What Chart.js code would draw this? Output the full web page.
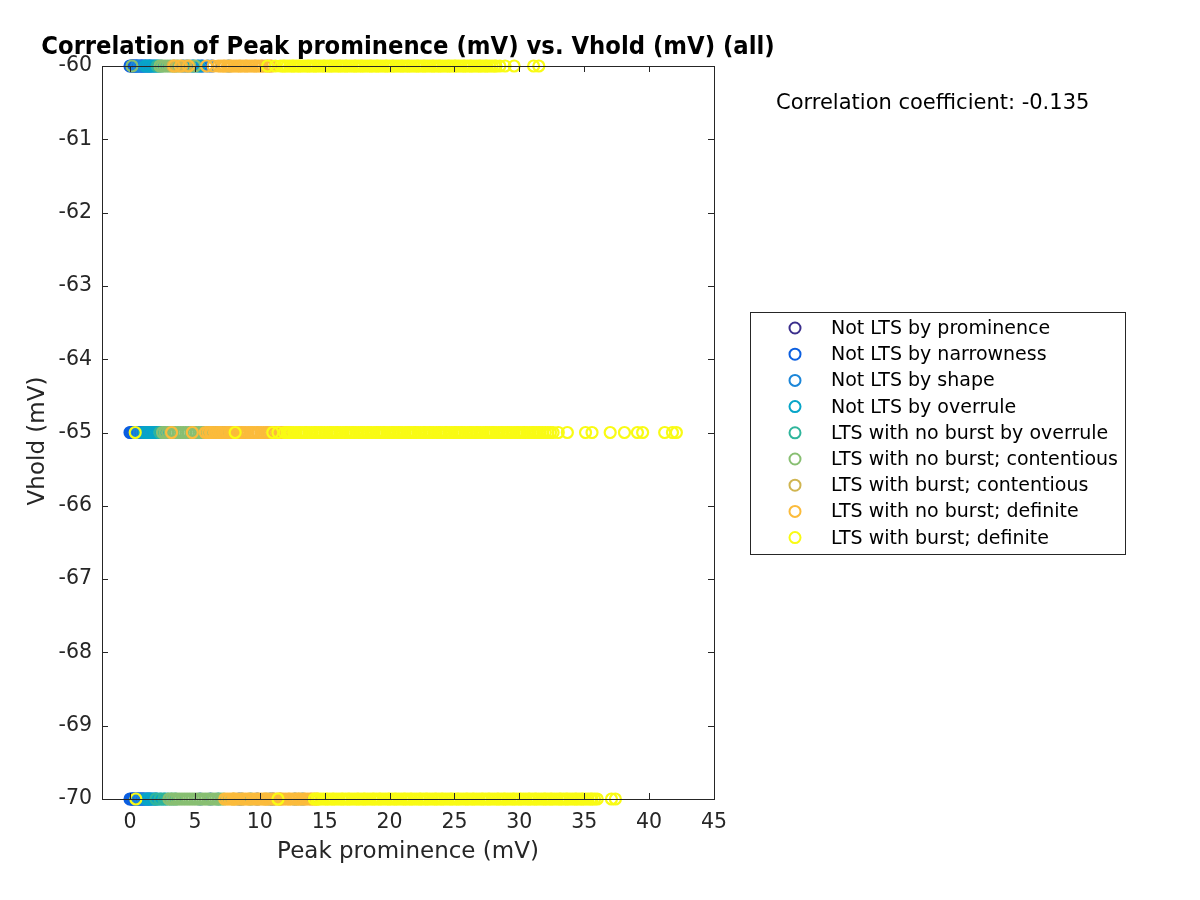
<!DOCTYPE html>
<html>
<head>
<meta charset="utf-8">
<title>Correlation of Peak prominence vs. Vhold</title>
<script src="https://cdn.jsdelivr.net/npm/chart.js@4/dist/chart.umd.min.js"></script>
<style>
  body { margin: 0; background: #ffffff; }
  #grafico { display: block; }
</style>
</head>
<body>
<canvas id="grafico" width="1200" height="900"></canvas>
<script>
// Niveis de Vhold (mV) onde os pontos aparecem
var vholdLevels = [-60, -65, -70];

var xTicks = [0, 5, 10, 15, 20, 25, 30, 35, 40, 45];
var yTicks = [-60, -61, -62, -63, -64, -65, -66, -67, -68, -69, -70];

var categoryNames = [
    'Not LTS by prominence',
    'Not LTS by narrowness',
    'Not LTS by shape',
    'Not LTS by overrule',
    'LTS with no burst by overrule',
    'LTS with no burst; contentious',
    'LTS with burst; contentious',
    'LTS with no burst; definite',
    'LTS with burst; definite'
];

var categoryColors = ['#3b2e8c', '#0c5fe0', '#1b86d9', '#07a5c8', '#2fb59c', '#88bf72', '#d0b550', '#fbbb3b', '#f9fb14'];

var correlationCoef = -0.135;

// Peak prominence (mV) de cada grupo, uma lista por nivel de Vhold (-60, -65, -70)
var notLtsProminence = [
    [0.2],
    [0.3],
    [0.2]
];
var notLtsNarrowness = [
    [0.0, 0.1, 0.2, 0.3, 0.4, 0.5, 0.6, 0.8, 0.9, 1.0, 1.2, 1.5, 5.5, 6.3],
    [0.0, 0.1, 0.2, 0.3, 0.4, 0.5, 0.6, 0.7, 0.9, 1.0, 1.5],
    [0.0, 0.1, 0.2, 0.3, 0.4, 0.5, 0.6, 0.7, 0.8, 0.9, 1.0, 1.1, 1.3, 1.5, 5.4, 6.2, 8.4, 9.8, 11.0]
];
var notLtsShape = [
    [0.5, 0.7, 0.9, 1.1, 1.3, 1.5, 1.7, 1.9, 4.1, 4.4, 4.8, 5.2, 5.6, 6.0, 7.6],
    [0.5, 0.7, 0.9, 1.1, 1.3, 1.5, 1.7, 1.9, 2.1, 6.0, 6.6, 7.2],
    [0.6, 0.8, 1.0, 1.2, 1.4, 1.6, 1.8, 2.0, 8.6, 10.8, 12.7, 13.3]
];
var notLtsOverrule = [
    [1.2, 1.4, 1.6, 1.8, 2.0, 2.2, 4.9, 5.3],
    [1.1, 1.3, 1.5, 1.7, 1.9, 2.1, 2.3, 6.3, 7.0],
    [1.3, 1.5, 1.7, 1.9, 2.1, 2.4, 2.7, 6.8, 9.3]
];
var ltsNoBurstOverrule = [
    [2.1, 2.4],
    [2.3, 2.6, 5.7],
    [2.0, 2.3, 2.6, 2.9, 3.2, 3.5]
];
var ltsNoBurstContentious = [
    [0.15, 2.3, 2.5, 2.7, 2.9, 3.1, 3.4, 3.7, 4.6, 5.0],
    [2.5, 2.7, 2.9, 3.1, 3.3, 3.5, 3.7, 3.9, 4.1, 4.3, 4.5, 4.7, 4.9, 5.1, 5.3, 5.5],
    [3.0, 3.2, 3.4, 3.6, 3.8, 4.0, 4.2, 4.4, 4.6, 4.8, 5.0, 5.2, 5.4, 5.6, 5.8, 6.0, 6.2, 6.4, 6.6, 6.8, 7.0, 7.2]
];
var ltsBurstContentious = [
    [3.3, 3.6, 4.0, 4.3],
    [6.8, 7.6],
    [8.0, 10.5, 11.6, 13.0]
];
var ltsNoBurstDefinite = [
    [3.4, 3.9, 4.5, 5.9, 6.4, 6.8, 7.0, 7.2, 7.3, 7.5, 7.7, 7.8, 8.0, 8.2, 8.4, 8.5, 8.7, 8.9, 9.0, 9.2,
     9.4, 9.6, 9.7, 9.9, 10.1, 10.2, 10.4, 10.6, 10.8, 10.9],
    [3.2, 4.8, 5.8, 6.0, 6.2, 6.3, 6.5, 6.7, 6.9, 7.0, 7.2, 7.4, 7.5, 7.7, 7.9, 8.1, 8.2, 8.4, 8.6, 8.7,
     8.9, 9.1, 9.3, 9.4, 9.6, 9.8, 9.9, 10.1, 10.3, 10.5, 10.6, 10.8, 11.0, 11.1, 11.3, 11.5, 11.7, 11.8, 12.0, 12.2],
    [7.3, 7.5, 7.7, 7.9, 8.0, 8.2, 8.4, 8.6, 8.7, 8.9, 9.1, 9.2, 9.4, 9.6, 9.8, 9.9, 10.1, 10.3, 10.4, 10.6,
     10.8, 11.0, 11.1, 11.3, 11.5, 11.6, 11.8, 12.0, 12.2, 12.3, 12.5, 12.7, 12.8, 13.0, 13.2, 13.4, 13.5, 13.7,
     13.9, 14.0, 14.2, 14.4]
];
var ltsBurstDefinite = [
    [10.6, 11.2, 11.6, 11.8, 11.9, 12.1, 12.3, 12.5, 12.6, 12.8, 13.0, 13.1, 13.3, 13.5, 13.7, 13.8, 14.0, 14.2,
     14.3, 14.5, 14.7, 14.9, 15.0, 15.2, 15.4, 15.5, 15.7, 15.9, 16.1, 16.2, 16.4, 16.6, 16.7, 16.9, 17.1, 17.3,
     17.4, 17.6, 17.8, 17.9, 18.1, 18.3, 18.5, 18.6, 18.8, 19.0, 19.1, 19.3, 19.5, 19.7, 19.8, 20.0, 20.2, 20.3,
     20.5, 20.7, 20.9, 21.0, 21.2, 21.4, 21.5, 21.7, 21.9, 22.1, 22.2, 22.4, 22.6, 22.7, 22.9, 23.1, 23.3, 23.4,
     23.6, 23.8, 23.9, 24.1, 24.3, 24.5, 24.6, 24.8, 25.0, 25.1, 25.3, 25.5, 25.7, 25.8, 26.0, 26.2, 26.3, 26.5,
     26.7, 26.9, 27.0, 27.2, 27.4, 27.5, 27.7, 27.9, 28.1, 28.2, 28.5, 28.9, 29.6, 31.1, 31.5],
    [0.4, 8.1, 11.0, 11.4, 11.9, 12.1, 12.3, 12.4, 12.6, 12.8, 13.0, 13.1, 13.3, 13.5, 13.6, 13.8, 14.0, 14.2,
     14.3, 14.5, 14.7, 14.8, 15.0, 15.2, 15.4, 15.5, 15.7, 15.9, 16.0, 16.2, 16.4, 16.6, 16.7, 16.9, 17.1, 17.2,
     17.4, 17.6, 17.8, 17.9, 18.1, 18.3, 18.4, 18.6, 18.8, 19.0, 19.1, 19.3, 19.5, 19.6, 19.8, 20.0, 20.2, 20.3,
     20.5, 20.7, 20.8, 21.0, 21.2, 21.4, 21.5, 21.7, 21.9, 22.0, 22.2, 22.4, 22.6, 22.7, 22.9, 23.1, 23.2, 23.4,
     23.6, 23.8, 23.9, 24.1, 24.3, 24.4, 24.6, 24.8, 25.0, 25.1, 25.3, 25.5, 25.6, 25.8, 26.0, 26.2, 26.3, 26.5,
     26.7, 26.8, 27.0, 27.2, 27.4, 27.5, 27.7, 27.9, 28.0, 28.2, 28.4, 28.6, 28.7, 28.9, 29.1, 29.2, 29.4, 29.6,
     29.8, 29.9, 30.1, 30.3, 30.4, 30.6, 30.8, 31.0, 31.1, 31.3, 31.5, 31.6, 31.8, 32.0, 32.2, 32.4, 32.6, 33.0,
     33.7, 35.1, 35.6, 37.0, 38.1, 39.1, 39.5, 41.2, 41.8, 42.1],
    [0.45, 11.4, 14.2, 14.4, 14.5, 14.7, 14.9, 15.1, 15.2, 15.4, 15.6, 15.7, 15.9, 16.1, 16.3, 16.4, 16.6, 16.8,
     16.9, 17.1, 17.3, 17.5, 17.6, 17.8, 18.0, 18.1, 18.3, 18.5, 18.7, 18.8, 19.0, 19.2, 19.3, 19.5, 19.7, 19.9,
     20.0, 20.2, 20.4, 20.5, 20.7, 20.9, 21.1, 21.2, 21.4, 21.6, 21.7, 21.9, 22.1, 22.3, 22.4, 22.6, 22.8, 22.9,
     23.1, 23.3, 23.5, 23.6, 23.8, 24.0, 24.1, 24.3, 24.5, 24.7, 24.8, 25.0, 25.2, 25.3, 25.5, 25.7, 25.9, 26.0,
     26.2, 26.4, 26.5, 26.7, 26.9, 27.1, 27.2, 27.4, 27.6, 27.7, 27.9, 28.1, 28.3, 28.4, 28.6, 28.8, 28.9, 29.1,
     29.3, 29.5, 29.6, 29.8, 30.0, 30.1, 30.3, 30.5, 30.7, 30.8, 31.0, 31.2, 31.3, 31.5, 31.7, 31.9, 32.0, 32.2,
     32.4, 32.5, 32.7, 32.9, 33.1, 33.2, 33.4, 33.6, 33.7, 33.9, 34.1, 34.3, 34.4, 34.6, 34.8, 34.9, 35.1, 35.3,
     35.5, 35.6, 35.8, 36.0, 37.1, 37.4]
];

var categoryValues = [notLtsProminence, notLtsNarrowness, notLtsShape, notLtsOverrule, ltsNoBurstOverrule,
    ltsNoBurstContentious, ltsBurstContentious, ltsNoBurstDefinite, ltsBurstDefinite];

var textColor = '#262626';
var fontName = '"DejaVu Sans", sans-serif';

// Montar os datasets: cada valor vira um ponto {x: prominence, y: vhold}
var datasets = categoryValues.map(function(porNivel, i) {
    var pontos = [];
    porNivel.forEach(function(lista, k) {
        lista.forEach(function(v) {
            pontos.push({ x: v, y: vholdLevels[k] });
        });
    });
    return {
        label: categoryNames[i],
        data: pontos,
        borderColor: categoryColors[i],
        backgroundColor: 'rgba(0,0,0,0)',
        pointRadius: 5.5,
        pointBorderWidth: 2.2,
        pointHoverRadius: 5.5,
        clip: false,
        order: categoryNames.length - 1 - i // o ultimo grupo fica por cima
    };
});

// Moldura, marcas de escala, titulos e legenda no estilo do MATLAB
var moldura = {
    id: 'moldura',
    afterDraw: function(chart) {
        var ctx = chart.ctx;
        var a = chart.chartArea;
        var xs = chart.scales.x, ys = chart.scales.y;
        ctx.save();
        ctx.strokeStyle = textColor;
        ctx.lineWidth = 1;
        ctx.strokeRect(Math.round(a.left) + 0.5, Math.round(a.top) + 0.5,
            Math.round(a.right - a.left), Math.round(a.bottom - a.top));

        var tam = 6;
        ctx.beginPath();
        xTicks.forEach(function(v) {
            var px = Math.round(xs.getPixelForValue(v)) + 0.5;
            ctx.moveTo(px, a.bottom); ctx.lineTo(px, a.bottom - tam);
            ctx.moveTo(px, a.top); ctx.lineTo(px, a.top + tam);
        });
        yTicks.forEach(function(v) {
            var py = Math.round(ys.getPixelForValue(v)) + 0.5;
            ctx.moveTo(a.left, py); ctx.lineTo(a.left + tam, py);
            ctx.moveTo(a.right, py); ctx.lineTo(a.right - tam, py);
        });
        ctx.stroke();

        var meioX = (a.left + a.right) / 2;
        ctx.fillStyle = '#000000';
        ctx.textAlign = 'center';
        ctx.textBaseline = 'middle';
        ctx.font = 'bold 25.3px "DejaVu Sans Condensed", "Liberation Sans", sans-serif';
        ctx.fillText('Correlation of Peak prominence (mV) vs. Vhold (mV) (all)', meioX, 47);

        ctx.fillStyle = textColor;
        ctx.font = '23px ' + fontName;
        ctx.fillText('Peak prominence (mV)', meioX, 852);
        ctx.save();
        ctx.translate(38, 441);
        ctx.rotate(-Math.PI / 2);
        ctx.fillText('Vhold (mV)', 0, 0);
        ctx.restore();

        ctx.fillStyle = '#000000';
        ctx.textAlign = 'left';
        ctx.font = '21px ' + fontName;
        ctx.fillText('Correlation coefficient: ' + correlationCoef.toFixed(3), 776, 104);

        // legenda com borda
        var lx = 750, ly = 312, lw = 375, lh = 242;
        ctx.fillStyle = '#ffffff';
        ctx.fillRect(lx, ly, lw, lh);
        ctx.strokeStyle = textColor;
        ctx.strokeRect(lx + 0.5, ly + 0.5, lw, lh);
        ctx.font = '19px ' + fontName;
        categoryNames.forEach(function(nome, i) {
            var cy = 328 + i * 26.2;
            ctx.beginPath();
            ctx.strokeStyle = categoryColors[i];
            ctx.lineWidth = 2;
            ctx.arc(795, cy, 5.5, 0, Math.PI * 2);
            ctx.stroke();
            ctx.fillStyle = '#000000';
            ctx.fillText(nome, 831, cy + 1);
        });
        ctx.restore();
    }
};

var ctx = document.getElementById('grafico').getContext('2d');
var grafico = new Chart(ctx, {
    type: 'scatter',
    data: { datasets: datasets },
    options: {
        responsive: false,
        animation: false,
        events: [],
        layout: { padding: { top: 66, right: 486, left: 0, bottom: 0 } },
        plugins: {
            legend: { display: false },
            title: { display: false },
            tooltip: { enabled: false }
        },
        scales: {
            x: {
                type: 'linear',
                min: -2.16,
                max: 45,
                grid: { display: false, drawTicks: false },
                border: { display: false },
                afterBuildTicks: function(scale) {
                    scale.ticks = xTicks.map(function(v) { return { value: v }; });
                },
                afterFit: function(scale) { scale.height = 101; },
                ticks: {
                    autoSkip: false,
                    maxRotation: 0,
                    padding: 11,
                    color: textColor,
                    font: { family: fontName, size: 20.5 }
                }
            },
            y: {
                type: 'linear',
                min: -70,
                max: -60,
                grid: { display: false, drawTicks: false },
                border: { display: false },
                afterBuildTicks: function(scale) {
                    scale.ticks = yTicks.map(function(v) { return { value: v }; });
                },
                afterFit: function(scale) { scale.width = 102; },
                ticks: {
                    autoSkip: false,
                    padding: 10,
                    color: textColor,
                    font: { family: fontName, size: 20.5 }
                }
            }
        }
    },
    plugins: [moldura]
});
</script>
</body>
</html>
